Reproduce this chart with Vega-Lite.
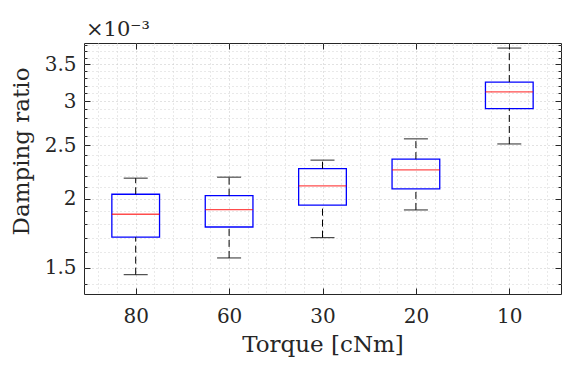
{
  "$schema": "https://vega.github.io/schema/vega-lite/v6.json",
  "width": 477,
  "height": 251,
  "autosize": "none",
  "padding": {"left": 84, "top": 43, "right": 1, "bottom": 71},
  "background": "white",
  "config": {
    "view": {"stroke": "#262626", "strokeWidth": 1},
    "font": "DejaVu Serif",
    "title": {"font": "DejaVu Serif", "fontSize": 21, "fontWeight": "normal"},
    "axis": {"domain": false, "tickColor": "#262626", "labelColor": "#262626", "titleColor": "#262626", "labelFont": "DejaVu Serif", "titleFont": "DejaVu Serif", "titleFontWeight": "normal"}
  },
  "title": {"text": "×10⁻³", "anchor": "start", "frame": "group", "fontSize": 21, "fontWeight": "normal", "font": "DejaVu Serif", "color": "#262626", "baseline": "alphabetic", "offset": 11, "dx": 2, "dy": 25},
  "data": {
    "values": [
      {"group": 1, "torque": "80", "lower": 1.457, "q1": 1.703, "median": 1.874, "q3": 2.037, "upper": 2.178},
      {"group": 2, "torque": "60", "lower": 1.562, "q1": 1.777, "median": 1.910, "q3": 2.025, "upper": 2.187},
      {"group": 3, "torque": "30", "lower": 1.700, "q1": 1.946, "median": 2.109, "q3": 2.266, "upper": 2.348},
      {"group": 4, "torque": "20", "lower": 1.908, "q1": 2.083, "median": 2.254, "q3": 2.358, "upper": 2.566},
      {"group": 5, "torque": "10", "lower": 2.512, "q1": 2.911, "median": 3.122, "q3": 3.251, "upper": 3.746}
    ]
  },
  "resolve": {"axis": {"x": "independent", "y": "independent"}},
  "layer": [
    {
      "mark": {"type": "bar", "orient": "vertical", "size": 47.7, "fill": "transparent", "stroke": "#0000ff", "strokeWidth": 1.3},
      "encoding": {
        "x": {"field": "group", "type": "quantitative", "scale": {"domain": [0.5, 5.5], "nice": false, "zero": false},
          "axis": {"orient": "bottom", "values": [1, 2, 3, 4, 5], "labelExpr": "['','80','60','30','20','10'][datum.value]", "grid": true, "gridColor": "#c4c4c4", "gridDash": [1, 3], "tickSize": -6, "labelPadding": 18, "labelFontSize": 20, "title": "Torque [cNm]", "titleFontSize": 23, "titlePadding": 7}},
        "y": {"field": "q1", "type": "quantitative", "scale": {"type": "log", "domain": [1.344, 3.826], "nice": false, "zero": false},
          "axis": {"orient": "left", "values": [1.5, 2, 2.5, 3, 3.5], "labelExpr": "format(datum.value, '~g')", "grid": true, "gridColor": "#c4c4c4", "gridDash": [1, 3], "tickSize": -6, "labelPadding": 14, "labelFontSize": 20, "title": "Damping ratio", "titleFontSize": 23, "titlePadding": 11, "titleY": 108}},
        "y2": {"field": "q3"}
      }
    },
    {
      "mark": {"type": "tick", "orient": "horizontal", "size": 47.7, "color": "#ff0000", "thickness": 1.3},
      "encoding": {
        "x": {"field": "group", "type": "quantitative",
          "axis": {"orient": "bottom", "values": [0.6, 0.8, 1.2, 1.4, 1.6, 1.8, 2.2, 2.4, 2.6, 2.8, 3.2, 3.4, 3.6, 3.8, 4.2, 4.4, 4.6, 4.8, 5.2, 5.4], "grid": true, "gridColor": "#d2d2d2", "gridDash": [1, 3], "ticks": false, "labels": false, "title": null}},
        "y": {"field": "median", "type": "quantitative",
          "axis": {"orient": "left", "values": [1.4, 1.6, 1.7, 1.8, 1.9, 2.1, 2.2, 2.3, 2.4, 2.6, 2.7, 2.8, 2.9, 3.1, 3.2, 3.3, 3.4, 3.6, 3.7, 3.8], "grid": true, "gridColor": "#d2d2d2", "gridDash": [1, 3], "tickSize": -3, "labels": false, "title": null}}
      }
    },
    {
      "mark": {"type": "rule", "color": "#000000", "strokeDash": [7, 4], "strokeWidth": 1},
      "encoding": {
        "x": {"field": "group", "type": "quantitative",
          "axis": {"orient": "top", "values": [1, 2, 3, 4, 5], "grid": false, "tickSize": -6, "labels": false, "title": null}},
        "y": {"field": "lower", "type": "quantitative",
          "axis": {"orient": "right", "values": [1.5, 2, 2.5, 3, 3.5], "grid": false, "tickSize": -6, "labels": false, "title": null}},
        "y2": {"field": "q1"}
      }
    },
    {
      "mark": {"type": "rule", "color": "#000000", "strokeDash": [7, 4], "strokeWidth": 1},
      "encoding": {
        "x": {"field": "group", "type": "quantitative", "axis": null},
        "y": {"field": "q3", "type": "quantitative",
          "axis": {"orient": "right", "values": [1.4, 1.6, 1.7, 1.8, 1.9, 2.1, 2.2, 2.3, 2.4, 2.6, 2.7, 2.8, 2.9, 3.1, 3.2, 3.3, 3.4, 3.6, 3.7, 3.8], "grid": false, "tickSize": -3, "labels": false, "title": null}},
        "y2": {"field": "upper"}
      }
    },
    {
      "mark": {"type": "tick", "orient": "horizontal", "size": 24, "color": "#000000", "thickness": 1.2},
      "encoding": {
        "x": {"field": "group", "type": "quantitative", "axis": null},
        "y": {"field": "upper", "type": "quantitative", "axis": null}
      }
    },
    {
      "mark": {"type": "tick", "orient": "horizontal", "size": 24, "color": "#000000", "thickness": 1.2},
      "encoding": {
        "x": {"field": "group", "type": "quantitative", "axis": null},
        "y": {"field": "lower", "type": "quantitative", "axis": null}
      }
    }
  ]
}
